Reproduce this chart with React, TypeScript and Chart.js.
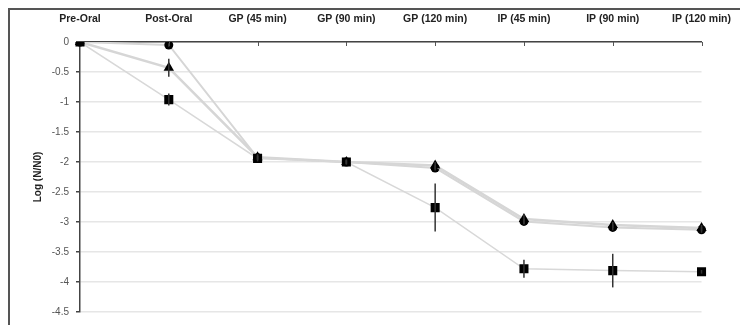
import React, { useEffect, useRef } from "react";
import { Chart, registerables } from "chart.js";

Chart.register(...registerables);

const categories = ["Pre-Oral", "Post-Oral", "GP (45 min)", "GP (90 min)", "GP (120 min)", "IP (45 min)", "IP (90 min)", "IP (120 min)"];
const squareValues = [0, -0.96, -1.94, -2.0, -2.76, -3.78, -3.81, -3.83];
const squareErrors = [0, 0.1, 0.05, 0.04, 0.4, 0.15, 0.28, 0.03];
const triangleValues = [0, -0.43, -1.92, -2.0, -2.06, -2.95, -3.05, -3.1];
const triangleErrors = [0, 0.15, 0.05, 0.04, 0.06, 0.08, 0.05, 0.05];
const circleValues = [0, -0.05, -1.93, -2.0, -2.1, -2.99, -3.09, -3.13];
const circleErrors = [0, 0.03, 0.03, 0.03, 0.04, 0.05, 0.05, 0.05];
const yTicks = [0, -0.5, -1, -1.5, -2, -2.5, -3, -3.5, -4, -4.5];

const FONT = "'Liberation Sans', Arial, sans-serif";

const errorBarPlugin = {
  id: "errorBars",
  afterDatasetsDraw(chart: any) {
    const ctx = chart.ctx;
    const y = chart.scales.y;
    const x = chart.scales.x;
    ctx.save();
    ctx.strokeStyle = "#555";
    ctx.lineWidth = 1;
    categories.forEach((_, i) => {
      if (i === 0) return;
      const px = Math.round(x.getPixelForValue(i)) + 0.5;
      ctx.beginPath();
      ctx.moveTo(px, y.top);
      ctx.lineTo(px, y.top + 4);
      ctx.stroke();
    });
    ctx.strokeStyle = "#333";
    ctx.lineWidth = 1.5;
    chart.data.datasets.forEach((ds: any) => {
      const errs: number[] = ds.errors || [];
      ds.data.forEach((v: number, i: number) => {
        const e = errs[i] || 0;
        if (!e) return;
        const px = x.getPixelForValue(i);
        ctx.beginPath();
        ctx.moveTo(px, y.getPixelForValue(v + e));
        ctx.lineTo(px, y.getPixelForValue(v - e));
        ctx.stroke();
      });
    });
    ctx.restore();
  },
};

export default function App() {
  const ref = useRef<HTMLCanvasElement | null>(null);
  useEffect(() => {
    if (!ref.current) return;
    const chart = new Chart(ref.current, {
      type: "line",
      data: {
        labels: categories,
        datasets: [
          {
            data: squareValues,
            errors: squareErrors,
            borderColor: "#d8d8d8",
            borderWidth: 1.5,
            pointStyle: "rect",
            pointRadius: 6.4,
            pointBackgroundColor: "#000",
            pointBorderColor: "#000",
            pointBorderWidth: 0,
          } as any,
          {
            data: triangleValues,
            errors: triangleErrors,
            borderColor: "#d6d6d6",
            borderWidth: 2.5,
            pointStyle: "triangle",
            pointRadius: 6,
            pointBackgroundColor: "#000",
            pointBorderColor: "#000",
            pointBorderWidth: 0,
          } as any,
          {
            data: circleValues,
            errors: circleErrors,
            borderColor: "#d6d6d6",
            borderWidth: 2,
            pointStyle: "circle",
            pointRadius: 4.5,
            pointBackgroundColor: "#000",
            pointBorderColor: "#000",
            pointBorderWidth: 0,
          } as any,
        ],
      },
      options: {
        animation: false,
        responsive: false,
        maintainAspectRatio: false,
        layout: { padding: { top: 0, right: 43, bottom: 12, left: 0 } },
        plugins: { legend: { display: false }, tooltip: { enabled: false } },
        scales: {
          x: {
            position: "top",
            offset: false,
            grid: { display: false, drawTicks: false },
            border: { display: true, color: "#444", width: 1.5 },
            ticks: {
              color: "#222",
              font: { family: FONT, size: 10.5, weight: "bold" },
              maxRotation: 0,
              autoSkip: false,
              padding: 17,
            },
            afterFit(scale: any) {
              scale.height = 32;
            },
          },
          y: {
            min: -4.5,
            max: 0,
            afterBuildTicks(scale: any) {
              scale.ticks = yTicks.map((v) => ({ value: v }));
            },
            grid: {
              color: "#e6e6e6",
              lineWidth: 1.5,
              tickColor: "#444",
              tickLength: 4,
              drawTicks: true,
            },
            border: { display: true, color: "#444", width: 1.5 },
            ticks: {
              color: "#555",
              font: { family: FONT, size: 10 },
              padding: 7,
              callback: (v: any) => String(v),
            },
            title: {
              display: true,
              text: "Log (N/N0)",
              color: "#222",
              font: { family: FONT, size: 10, weight: "bold" },
              padding: { top: 22, bottom: 0 },
            },
            afterFit(scale: any) {
              scale.width = 70;
            },
          },
        },
      } as any,
      plugins: [errorBarPlugin],
    });
    return () => chart.destroy();
  }, []);
  return (
    <div style={{ width: 738, height: 315, borderLeft: "2px solid #555", borderTop: "2px solid #555" }}>
      <canvas ref={ref} width={738} height={315} style={{ display: "block", width: 738, height: 315 }} />
    </div>
  );
}
